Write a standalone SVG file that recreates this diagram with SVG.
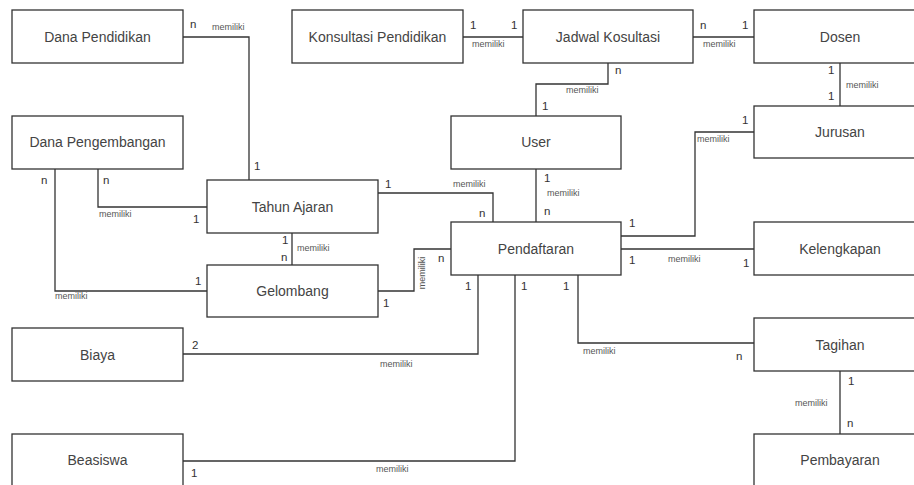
<svg xmlns="http://www.w3.org/2000/svg" width="914" height="485" viewBox="0 0 914 485">
<style>
.box{fill:#fff;stroke:#333;stroke-width:1.3}
.name{font-family:"Liberation Sans",Arial,sans-serif;font-size:14px;fill:#444;text-anchor:middle}
.m{font-family:"Liberation Sans",Arial,sans-serif;font-size:11.5px;fill:#333}
.r{font-family:"Liberation Sans",Arial,sans-serif;font-size:9px;fill:#555}
.ln{fill:none;stroke:#333;stroke-width:1.3}
</style>
<rect width="914" height="485" fill="#fff"/>
<g id="connectors">
<path class="ln" d="M183,37 H249 V180"/>
<path class="ln" d="M463,37 H523"/>
<path class="ln" d="M693,37 H754"/>
<path class="ln" d="M608,63 V84 H536 V116"/>
<path class="ln" d="M840,63 V106"/>
<path class="ln" d="M754,132 H695 V236 H621"/>
<path class="ln" d="M536,169 V222"/>
<path class="ln" d="M378,193 H493 V222"/>
<path class="ln" d="M98,169 V207 H207"/>
<path class="ln" d="M55,169 V291 H207"/>
<path class="ln" d="M292,233 V265"/>
<path class="ln" d="M378,291 H414 V249 H451"/>
<path class="ln" d="M621,249 H754"/>
<path class="ln" d="M478,275 V354 H183"/>
<path class="ln" d="M515,275 V461 H183"/>
<path class="ln" d="M578,275 V343 H754"/>
<path class="ln" d="M840,371 V434"/>
<text class="m" x="190" y="28">n</text><text class="r" x="212" y="30">memiliki</text><text class="m" x="254" y="170">1</text>
<text class="m" x="470" y="29">1</text><text class="m" x="511" y="29">1</text><text class="r" x="472" y="47">memiliki</text>
<text class="m" x="700" y="29">n</text><text class="m" x="742" y="29">1</text><text class="r" x="703" y="47">memiliki</text>
<text class="m" x="615" y="74">n</text><text class="r" x="566" y="93">memiliki</text><text class="m" x="542" y="110">1</text>
<text class="m" x="828" y="74">1</text><text class="r" x="846" y="88">memiliki</text><text class="m" x="828" y="100">1</text>
<text class="m" x="742" y="124">1</text><text class="r" x="697" y="142">memiliki</text><text class="m" x="629" y="227">1</text>
<text class="m" x="544" y="182">1</text><text class="r" x="547" y="196">memiliki</text><text class="m" x="544" y="215">n</text>
<text class="m" x="385" y="188">1</text><text class="r" x="453" y="187">memiliki</text><text class="m" x="479" y="217">n</text>
<text class="m" x="103" y="184">n</text><text class="r" x="99" y="217">memiliki</text><text class="m" x="193" y="223">1</text>
<text class="m" x="41" y="184">n</text><text class="r" x="55" y="299">memiliki</text><text class="m" x="195" y="285">1</text>
<text class="m" x="282" y="244">1</text><text class="m" x="281" y="261">n</text><text class="r" x="297" y="251">memiliki</text>
<text class="m" x="383" y="307">1</text><text class="r" transform="translate(425,273) rotate(-90)" text-anchor="middle">memiliki</text><text class="m" x="438" y="262">n</text>
<text class="m" x="629" y="264">1</text><text class="r" x="668" y="262">memiliki</text><text class="m" x="743" y="267">1</text>
<text class="m" x="465" y="290">1</text><text class="m" x="192" y="349">2</text><text class="r" x="380" y="367">memiliki</text>
<text class="m" x="521" y="290">1</text><text class="m" x="191" y="477">1</text><text class="r" x="376" y="472">memiliki</text>
<text class="m" x="563" y="290">1</text><text class="r" x="583" y="354">memiliki</text><text class="m" x="736" y="360">n</text>
<text class="m" x="848" y="385">1</text><text class="r" x="795" y="406">memiliki</text><text class="m" x="847" y="427">n</text>
</g>
<g id="dana-pendidikan"><rect class="box" x="12" y="10" width="171" height="53"/><text class="name" x="97.5" y="42">Dana Pendidikan</text></g>
<g id="dana-pengembangan"><rect class="box" x="12" y="116" width="171" height="53"/><text class="name" x="97.5" y="147">Dana Pengembangan</text></g>
<g id="konsultasi-pendidikan"><rect class="box" x="292" y="10" width="171" height="53"/><text class="name" x="377.5" y="42">Konsultasi Pendidikan</text></g>
<g id="jadwal-kosultasi"><rect class="box" x="523" y="10" width="170" height="53"/><text class="name" x="608" y="42">Jadwal Kosultasi</text></g>
<g id="dosen"><rect class="box" x="754" y="10" width="171" height="53"/><text class="name" x="840" y="42">Dosen</text></g>
<g id="user"><rect class="box" x="451" y="116" width="170" height="53"/><text class="name" x="536" y="147">User</text></g>
<g id="jurusan"><rect class="box" x="754" y="106" width="171" height="52"/><text class="name" x="840" y="137">Jurusan</text></g>
<g id="tahun-ajaran"><rect class="box" x="207" y="180" width="171" height="53"/><text class="name" x="292.5" y="211.5">Tahun Ajaran</text></g>
<g id="pendaftaran"><rect class="box" x="451" y="222" width="170" height="53"/><text class="name" x="536" y="253.5">Pendaftaran</text></g>
<g id="kelengkapan"><rect class="box" x="754" y="222" width="171" height="53"/><text class="name" x="840" y="253.5">Kelengkapan</text></g>
<g id="gelombang"><rect class="box" x="207" y="265" width="171" height="52"/><text class="name" x="292.5" y="296">Gelombang</text></g>
<g id="biaya"><rect class="box" x="12" y="328" width="171" height="53"/><text class="name" x="97.5" y="359.5">Biaya</text></g>
<g id="tagihan"><rect class="box" x="754" y="318" width="171" height="53"/><text class="name" x="840" y="349.5">Tagihan</text></g>
<g id="beasiswa"><rect class="box" x="12" y="434" width="171" height="53"/><text class="name" x="97.5" y="465">Beasiswa</text></g>
<g id="pembayaran"><rect class="box" x="754" y="434" width="171" height="53"/><text class="name" x="840" y="465">Pembayaran</text></g>
</svg>
